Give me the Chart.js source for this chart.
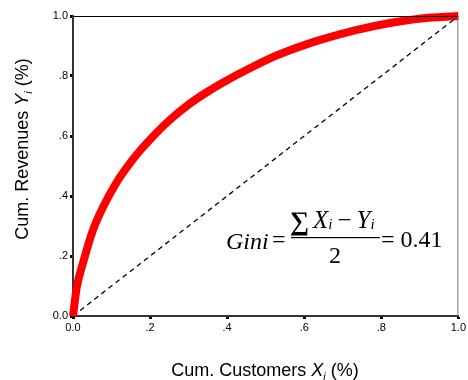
<!DOCTYPE html>
<html>
<head>
<meta charset="utf-8">
<script src="https://cdn.jsdelivr.net/npm/chart.js@4.4.1/dist/chart.umd.min.js"></script>
<style>
  html, body { margin: 0; padding: 0; background: #fff; }
  #wrap { width: 468px; height: 380px; }
</style>
</head>
<body>
<div id="wrap"><canvas id="lorenz" width="468" height="380"></canvas></div>
<script>
// Lorenz curve
const customers = [0, 0.01, 0.026, 0.052, 0.078, 0.113, 0.147, 0.173, 0.199, 0.25, 0.3, 0.346, 0.40, 0.45, 0.517, 0.561, 0.6, 0.646, 0.734, 0.819, 0.904, 1.0];
const revenues  = [0, 0.097, 0.177, 0.287, 0.363, 0.445, 0.508, 0.55, 0.587, 0.652, 0.705, 0.745, 0.786, 0.82, 0.862, 0.885, 0.903, 0.922, 0.953, 0.976, 0.992, 1.0];
const equality  = [0, 1];
const tickValues = [0, 0.2, 0.4, 0.6, 0.8, 1.0];
const tickLabels = ['0.0', '.2', '.4', '.6', '.8', '1.0'];
const giniValue = '0.41';

const sans = 'Liberation Sans, Arial, sans-serif';
const serif = 'Liberation Serif, Times New Roman, serif';

// draws text pieces [text, font, dy] one after the other
function drawRuns(ctx, runs, x, y) {
  let cx = x;
  runs.forEach(r => {
    ctx.font = r[1];
    ctx.fillText(r[0], cx, y + (r[2] || 0));
    cx += ctx.measureText(r[0]).width;
  });
  return cx;
}
function runsWidth(ctx, runs) {
  let w = 0;
  runs.forEach(r => { ctx.font = r[1]; w += ctx.measureText(r[0]).width; });
  return w;
}

const decor = {
  id: 'decor',
  afterDraw(chart) {
    const ctx = chart.ctx;
    const a = chart.chartArea;
    ctx.save();
    // top and right frame
    ctx.strokeStyle = '#000';
    ctx.lineWidth = 1;
    ctx.beginPath();
    ctx.moveTo(a.left, a.top + 0.5);
    ctx.lineTo(a.right, a.top + 0.5);
    ctx.stroke();
    ctx.strokeStyle = '#777';
    ctx.beginPath();
    ctx.moveTo(a.right - 0.5, a.top);
    ctx.lineTo(a.right - 0.5, a.bottom);
    ctx.stroke();

    ctx.fillStyle = '#000';
    ctx.textBaseline = 'alphabetic';
    // x axis title
    const xr = [['Cum. Customers ', '18px ' + sans], ['X', 'italic 18px ' + sans], ['i', 'italic 11px ' + sans, 4], [' (%)', '18px ' + sans]];
    const xw = runsWidth(ctx, xr);
    drawRuns(ctx, xr, 265 - xw / 2, 376);
    // y axis title
    const yr = [['Cum. Revenues ', '18px ' + sans], ['Y', 'italic 18px ' + sans], ['i', 'italic 11px ' + sans, 4], [' (%)', '18px ' + sans]];
    const yw = runsWidth(ctx, yr);
    ctx.save();
    ctx.translate(28, 149);
    ctx.rotate(-Math.PI / 2);
    drawRuns(ctx, yr, -yw / 2, 0);
    ctx.restore();

    // Gini formula
    drawRuns(ctx, [['Gini', 'italic 24px ' + serif]], 226, 249);
    drawRuns(ctx, [['=', '24px ' + serif]], 272, 247);
    drawRuns(ctx, [['\u2211', 'bold 27px ' + serif]], 290, 230);
    drawRuns(ctx, [['X', 'italic 25px ' + serif], ['i', 'italic 15px ' + serif, 1], ['\u2009\u2212\u2009', '25px ' + serif], ['Y', 'italic 25px ' + serif], ['i', 'italic 15px ' + serif, 1]], 313, 228);
    ctx.fillRect(291, 237, 89, 1.2);
    drawRuns(ctx, [['2', '24px ' + serif]], 329, 263);
    drawRuns(ctx, [['= ' + giniValue, '24px ' + serif]], 381, 247);
    ctx.restore();
  }
};

const axisCommon = {
  type: 'linear',
  min: 0,
  max: 1,
  afterBuildTicks: s => { s.ticks = tickValues.map(v => ({ value: v })); },
  grid: { drawOnChartArea: false, drawTicks: true, tickLength: 3, tickWidth: 3, color: '#000' },
  border: { display: true, color: '#333', width: 2 },
  ticks: {
    color: '#000',
    padding: 2,
    font: { family: sans, size: 11 },
    callback: (v, i) => tickLabels[i]
  }
};

new Chart(document.getElementById('lorenz'), {
  type: 'line',
  data: {
    datasets: [
      {
        data: equality.map(v => ({ x: v, y: v })),
        borderColor: '#000',
        borderWidth: 1.3,
        borderDash: [5, 4],
        pointRadius: 0,
        order: 2
      },
      {
        data: customers.map((c, i) => ({ x: c, y: revenues[i] })),
        borderColor: '#ff0000',
        borderWidth: 8,
        cubicInterpolationMode: 'monotone',
        pointRadius: 0,
        clip: false,
        order: 1
      }
    ]
  },
  options: {
    responsive: false,
    animation: false,
    layout: { padding: { left: 0, top: 16, right: 8, bottom: 0 } },
    plugins: { legend: { display: false }, tooltip: { enabled: false } },
    scales: {
      x: Object.assign({}, axisCommon, { afterFit: s => { s.height = 64; } }),
      y: Object.assign({}, axisCommon, { afterFit: s => { s.width = 73; } })
    }
  },
  plugins: [decor]
});
</script>
</body>
</html>
